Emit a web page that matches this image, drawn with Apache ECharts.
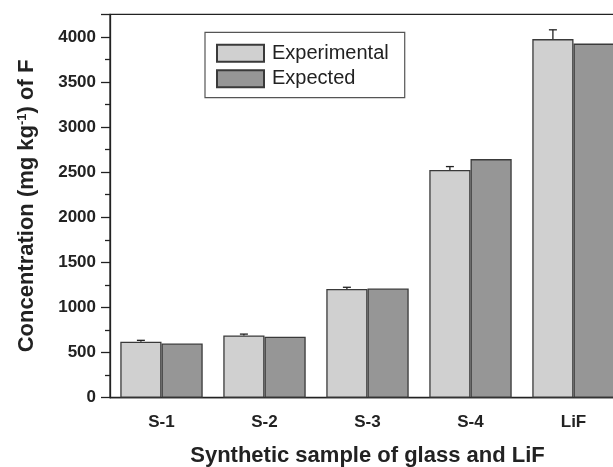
<!DOCTYPE html>
<html>
<head>
<meta charset="utf-8">
<script src="https://cdn.jsdelivr.net/npm/echarts@6/dist/echarts.min.js"></script>
<style>
  html, body { margin: 0; padding: 0; background: #fff; overflow: hidden; }
  #chart { width: 640px; height: 467px; }
</style>
</head>
<body>
<div id="chart"></div>
<script>
// Fluoride concentration in synthetic glass samples and LiF
const categories = ['S-1', 'S-2', 'S-3', 'S-4', 'LiF'];
const experimental = [620, 690, 1205, 2525, 3975];
const experimentalErr = [16, 15, 19, 37, 103];
const expected = [600, 675, 1210, 2645, 3925];
const yTicks = { min: 0, max: 4250, interval: 500 };

const FONT = '"Liberation Sans", Arial, Helvetica, sans-serif';
const INK = '#222';
const LIGHT = '#d0d0d0';
const DARK = '#969696';
const BAR_EDGE = '#3a3a3a';
const CATEGORY_GAP = 0.2;

const chart = echarts.init(document.getElementById('chart'), null, { renderer: 'canvas' });

// Upper error whisker with a short cap, drawn above each experimental bar
function renderErrorBar(params, api) {
  const idx = api.value(0);
  const val = api.value(1);
  const err = api.value(2);
  const catW = api.size([1, 0])[0];
  const dx = -catW * (1 - CATEGORY_GAP) / 4;
  const base = api.coord([idx, val]);
  const top = api.coord([idx, val + err]);
  const x = base[0] + dx;
  const cap = 4;
  const style = { stroke: INK, lineWidth: 1.3, fill: null };
  return {
    type: 'group',
    children: [
      { type: 'line', shape: { x1: x, y1: base[1], x2: x, y2: top[1] }, style },
      { type: 'line', shape: { x1: x - cap, y1: top[1], x2: x + cap, y2: top[1] }, style }
    ]
  };
}

const option = {
  animation: false,
  backgroundColor: '#fff',
  textStyle: { fontFamily: FONT },
  grid: {
    left: 110, top: 14.3, width: 515, bottom: 69.3,
    outerBoundsMode: 'none',
    containLabel: false,
    show: true, borderColor: INK, borderWidth: 1.3, backgroundColor: 'transparent'
  },
  legend: {
    orient: 'vertical',
    left: 205, top: 32.3,
    padding: [11, 16, 9, 11],
    icon: 'rect',
    itemWidth: 47, itemHeight: 17, itemGap: 5.4,
    backgroundColor: '#fff',
    borderColor: '#555', borderWidth: 1.2, borderRadius: 0,
    textStyle: { fontFamily: FONT, fontSize: 20, color: INK, padding: [0, 0, 0, 3] },
    data: ['Experimental', 'Expected']
  },
  xAxis: [
    {
      type: 'category',
      data: categories,
      boundaryGap: true,
      name: 'Synthetic sample of glass and LiF',
      nameLocation: 'middle',
      nameGap: 47,
      nameTextStyle: { fontFamily: FONT, fontSize: 22, fontWeight: 'bold', color: INK },
      axisLine: { lineStyle: { color: INK, width: 1.3 } },
      axisTick: { alignWithLabel: true, length: 8, lineStyle: { color: INK, width: 1.3 } },
      axisLabel: { margin: 16, fontFamily: FONT, fontSize: 17, fontWeight: 'bold', color: INK },
      splitLine: { show: false }
    },
    {
      // boundary ticks between categories
      type: 'category',
      data: categories,
      position: 'bottom',
      boundaryGap: true,
      axisLine: { show: false },
      axisTick: { length: 5, lineStyle: { color: INK, width: 1.3 } },
      axisLabel: { show: false },
      splitLine: { show: false }
    }
  ],
  yAxis: {
    type: 'value',
    min: yTicks.min, max: yTicks.max, interval: yTicks.interval,
    name: 'Concentration (mg kg{sup|-1}) of F',
    nameLocation: 'middle',
    nameGap: 72,
    nameTextStyle: {
      fontFamily: FONT, fontSize: 22, fontWeight: 'bold', color: INK,
      rich: {
        sup: { fontFamily: FONT, fontSize: 13, fontWeight: 'bold', color: INK, verticalAlign: 'top', lineHeight: 14 }
      }
    },
    axisLine: { show: true, lineStyle: { color: INK, width: 1.3 } },
    axisTick: { show: true, length: 9, lineStyle: { color: INK, width: 1.3 } },
    minorTick: { show: true, splitNumber: 2, length: 5, lineStyle: { color: INK, width: 1.3 } },
    axisLabel: {
      margin: 14, fontFamily: FONT, fontSize: 17, fontWeight: 'bold', color: INK,
      formatter: v => (v % 500 === 0 && v <= 4000 ? String(v) : '')
    },
    splitLine: { show: false }
  },
  series: [
    {
      name: 'Experimental',
      type: 'bar',
      data: experimental,
      barGap: '0%',
      barCategoryGap: (CATEGORY_GAP * 100) + '%',
      itemStyle: { color: LIGHT, borderColor: BAR_EDGE, borderWidth: 1.3 }
    },
    {
      name: 'Expected',
      type: 'bar',
      data: expected,
      barGap: '0%',
      barCategoryGap: (CATEGORY_GAP * 100) + '%',
      itemStyle: { color: DARK, borderColor: BAR_EDGE, borderWidth: 1.3 }
    },
    {
      name: 'error',
      type: 'custom',
      renderItem: renderErrorBar,
      encode: { x: 0, y: 1 },
      data: experimental.map((v, i) => [i, v, experimentalErr[i]]),
      z: 5
    }
  ]
};

chart.setOption(option);
</script>
</body>
</html>
